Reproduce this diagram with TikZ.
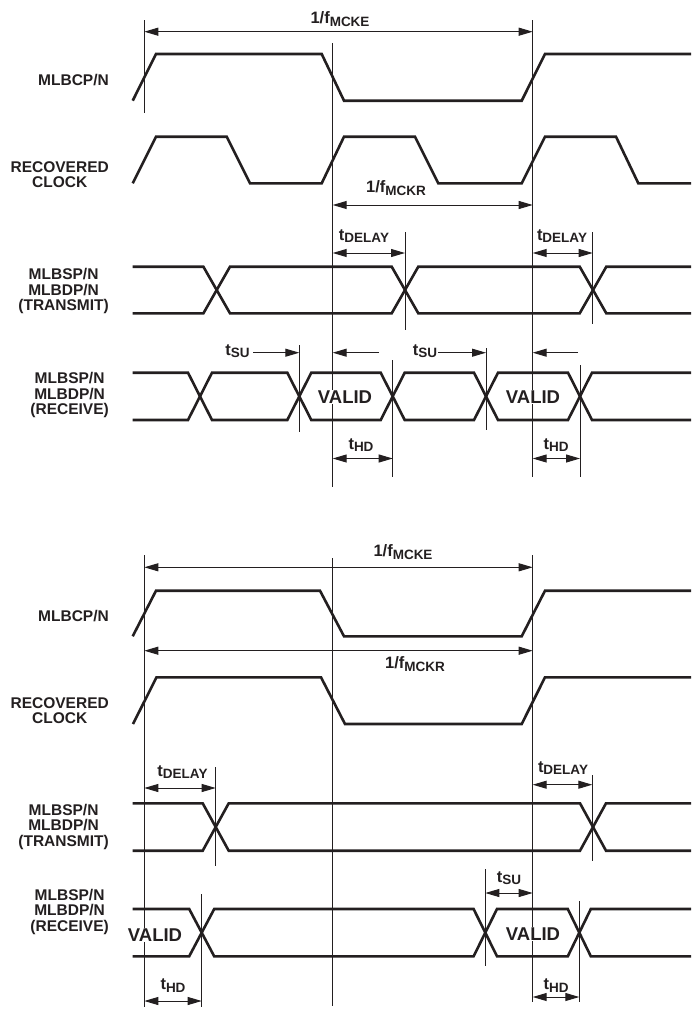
\documentclass[tikz,border=0pt]{standalone}
\usepackage{fontspec}
\setmainfont{Liberation Sans}
\usetikzlibrary{arrows.meta}
\definecolor{ink}{RGB}{35,31,32}
\newcommand{\tsub}[2]{{\fontsize{16.5}{16.5}\selectfont #1}\raisebox{-2.5pt}{\fontsize{13.5}{13.5}\selectfont #2}}
\tikzset{
  sig/.style={draw=ink, line width=2.6pt},
  guide/.style={draw=ink, line width=1pt},
  dim/.style={draw=ink, line width=1pt, {Triangle[length=14pt,width=8pt]}-{Triangle[length=14pt,width=8pt]}},
  dimr/.style={draw=ink, line width=1pt, -{Triangle[length=14pt,width=8pt]}},
  lab/.style={text=ink, font=\fontsize{15.5}{15.3}\selectfont\bfseries, align=center, anchor=east, inner sep=0pt},
  tlab/.style={text=ink, font=\bfseries, inner sep=0.5pt},
  valid/.style={text=ink, font=\fontsize{18.5}{18.5}\selectfont\bfseries, fill=white, inner sep=1pt},
}
\begin{document}
\begin{tikzpicture}[x=1pt,y=-1pt]
\useasboundingbox (0,0) rectangle (691,1009);

% ================= TOP DIAGRAM =================
% guide lines
\draw[guide] (144.3,20) coordinate (T1) -- (144.3,113);
\draw[guide] (332.7,43) coordinate (T2) -- (332.7,487);
\draw[guide] (532.7,20) coordinate (T3) -- (532.7,477);
\draw[guide] (405,232) coordinate (T4) -- (405,330);
\draw[guide] (592.7,232) coordinate (T5) -- (592.7,324);
\draw[guide] (299.3,345) coordinate (T6) -- (299.3,432);
\draw[guide] (486,348) coordinate (T7) -- (486,430);
\draw[guide] (392.7,360) coordinate (T8) -- (392.7,477);
\draw[guide] (580,365) coordinate (T9) -- (580,477);

% dimension arrows
\draw[dim] (T1 |- 0,31.7) -- (T3 |- 0,31.7);
\draw[dim] (T2 |- 0,205) -- (T3 |- 0,205);
\draw[dim] (T2 |- 0,253) -- (T4 |- 0,253);
\draw[dim] (T3 |- 0,253) -- (T5 |- 0,253);
\draw[dim] (T2 |- 0,458.5) -- (T8 |- 0,458.5);
\draw[dim] (T3 |- 0,458.5) -- (T9 |- 0,458.5);
\coordinate (S1) at (253,352.7);
\coordinate (S2) at (438,352.7);
\coordinate (L1) at (379,352.7);
\coordinate (L2) at (578,352.7);
\draw[dimr] (S1) -- (T6 |- S1);
\draw[dimr] (S2) -- (T7 |- S2);
\draw[dimr] (L1) -- (T2 |- L1);
\draw[dimr] (L2) -- (T3 |- L2);

% signals
\draw[sig] (132.7,100.7) -- (156,54) -- (321.7,54) -- (344,100.7) -- (521.7,100.7) -- (545,54) -- (691,54);
\draw[sig] (132.7,183.3) -- (156,136.7) -- (226.7,136.7) -- (250,183.3) -- (321.7,183.3) -- (344,136.7) -- (415,136.7) -- (438.3,183.3) -- (521.7,183.3) -- (545,136.7) -- (616,136.7) -- (638.3,183.3) -- (691,183.3);
% transmit
\draw[sig] (132.7,266.7) -- (203.4,266.7) -- (230,313.3) -- (391.7,313.3) -- (418.3,266.7) -- (579.7,266.7) -- (606.3,313.3) -- (691,313.3);
\draw[sig] (132.7,313.3) -- (203.4,313.3) -- (230,266.7) -- (391.7,266.7) -- (418.3,313.3) -- (579.7,313.3) -- (606.3,266.7) -- (691,266.7);
% receive
\draw[sig] (132.7,372.7) -- (188,372.7) -- (212,420) -- (287.3,420) -- (311.3,372.7) -- (380.7,372.7) -- (404.7,420) -- (474,420) -- (498,372.7) -- (568,372.7) -- (592,420) -- (691,420);
\draw[sig] (132.7,420) -- (188,420) -- (212,372.7) -- (287.3,372.7) -- (311.3,420) -- (380.7,420) -- (404.7,372.7) -- (474,372.7) -- (498,420) -- (568,420) -- (592,372.7) -- (691,372.7);

% labels
\node[lab] (tl1) at (109,80) {MLBCP/N};
\node[lab] (tl2) at (109,175) {RECOVERED\\CLOCK};
\node[lab] (tl3) at (109,291) {MLBSP/N\\MLBDP/N\\(TRANSMIT)};
\node[lab] (tl4) at (109,395) {MLBSP/N\\MLBDP/N\\(RECEIVE)};

\node[tlab] (tm1) at (340,19) {\tsub{1/f}{MCKE}};
\node[tlab] (tm2) at (396,188) {\tsub{1/f}{MCKR}};
\node[tlab] (td1) at (364,236) {\tsub{t}{DELAY}};
\node[tlab] (td2) at (562,236) {\tsub{t}{DELAY}};
\node[tlab] (ts1) at (237.5,351) {\tsub{t}{SU}};
\node[tlab] (ts2) at (425,351) {\tsub{t}{SU}};
\node[tlab] (th1) at (361,445) {\tsub{t}{HD}};
\node[tlab] (th2) at (556,445) {\tsub{t}{HD}};
\node[valid] (tv1) at (345,397) {VALID};
\node[valid] (tv2) at (533,397) {VALID};

% ================= BOTTOM DIAGRAM =================
\draw[guide] (144.3,555) coordinate (B1) -- (144.3,1007);
\draw[guide] (332.7,558) coordinate (B2) -- (332.7,1006);
\draw[guide] (532.7,555) coordinate (B3) -- (532.7,1002);
\draw[guide] (215.7,767) coordinate (B4) -- (215.7,866);
\draw[guide] (592.3,775) coordinate (B5) -- (592.3,861);
\draw[guide] (201.7,894) coordinate (B6) -- (201.7,1007);
\draw[guide] (485.3,869) coordinate (B7) -- (485.3,966);
\draw[guide] (579.3,901) coordinate (B8) -- (579.3,1002);

\draw[dim] (B1 |- 0,567.3) -- (B3 |- 0,567.3);
\draw[dim] (B1 |- 0,650.7) -- (B3 |- 0,650.7);
\draw[dim] (B1 |- 0,788) -- (B4 |- 0,788);
\draw[dim] (B3 |- 0,784.7) -- (B5 |- 0,784.7);
\draw[dim] (B7 |- 0,893) -- (B3 |- 0,893);
\draw[dim] (B1 |- 0,1001) -- (B6 |- 0,1001);
\draw[dim] (B3 |- 0,997) -- (B8 |- 0,997);

\draw[sig] (132.7,636.3) -- (156,590.7) -- (320,590.7) -- (344,636.3) -- (521.7,636.3) -- (545,590.7) -- (691,590.7);
\draw[sig] (133,724) -- (156.5,677.3) -- (321,677.3) -- (345,724) -- (521.7,724) -- (545,677.3) -- (691,677.3);
% transmit
\draw[sig] (132.7,803.3) -- (202.7,803.3) -- (228.7,850.7) -- (580,850.7) -- (606,803.3) -- (691,803.3);
\draw[sig] (132.7,850.7) -- (202.7,850.7) -- (228.7,803.3) -- (580,803.3) -- (606,850.7) -- (691,850.7);
% receive
\draw[sig] (132.7,909) -- (189.2,909) -- (214.2,956.3) -- (473.6,956.3) -- (497,909) -- (567.8,909) -- (590.8,956.3) -- (691,956.3);
\draw[sig] (132.7,956.3) -- (189.2,956.3) -- (214.2,909) -- (473.6,909) -- (497,956.3) -- (567.8,956.3) -- (590.8,909) -- (691,909);

\node[lab] (bl1) at (109,615.7) {MLBCP/N};
\node[lab] (bl2) at (109,710.7) {RECOVERED\\CLOCK};
\node[lab] (bl3) at (109,826.7) {MLBSP/N\\MLBDP/N\\(TRANSMIT)};
\node[lab] (bl4) at (109,911.7) {MLBSP/N\\MLBDP/N\\(RECEIVE)};

\node[tlab] (bm1) at (403,552) {\tsub{1/f}{MCKE}};
\node[tlab] (bm2) at (415,664) {\tsub{1/f}{MCKR}};
\node[tlab] (bd1) at (182.5,772) {\tsub{t}{DELAY}};
\node[tlab] (bd2) at (563,768) {\tsub{t}{DELAY}};
\node[tlab] (bs1) at (509,878) {\tsub{t}{SU}};
\node[tlab] (bh1) at (173,985.5) {\tsub{t}{HD}};
\node[tlab] (bh2) at (556,985.5) {\tsub{t}{HD}};
\node[valid] (bv1) at (155,935) {VALID};
\node[valid] (bv2) at (533,934) {VALID};
\end{tikzpicture}
\end{document}
